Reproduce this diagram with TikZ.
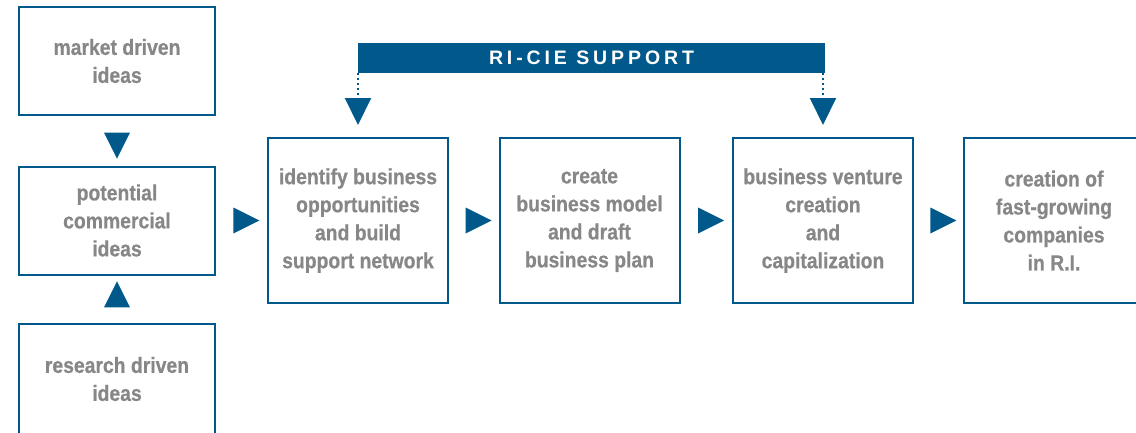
\documentclass[tikz,border=0pt]{standalone}
\usepackage{fontspec}
\setmainfont{Liberation Sans}
\newfontfamily\boxfont[FakeStretch=0.88, BoldFont={Liberation Sans Bold}, BoldFeatures={FakeBold=0.6}]{Liberation Sans}
\newfontfamily\barfont[LetterSpace=20]{Liberation Sans}
\usetikzlibrary{shapes.geometric}
\usetikzlibrary{arrows.meta}
\definecolor{riblue}{HTML}{00598A}
\definecolor{rigrey}{HTML}{878787}
\tikzset{
  idea/.style={draw=riblue, line width=2pt, minimum width=196pt, minimum height=108pt,
    inner sep=0pt, align=center, text=rigrey, font=\boxfont\bfseries\fontsize{22}{28}\selectfont},
  stage/.style={idea, minimum width=180pt, minimum height=165pt},
  pointer/.style={isosceles triangle, isosceles triangle stretches, minimum width=26pt,
    minimum height=26pt, inner sep=0pt, fill=riblue, sloped, allow upside down, midway},
  bar/.style={fill=riblue, minimum width=467pt, minimum height=30pt, inner sep=0pt,
    text=white, font=\barfont\bfseries\fontsize{19.5}{20}\selectfont},
  support/.style={riblue, line width=2pt, dash pattern=on 2pt off 3pt, shorten >=12pt,
    -{Triangle[length=27pt,width=26pt]}}
}
\begin{document}
\begin{tikzpicture}[x=1pt, y=-1pt]
  \clip (0,0) rectangle (1136,432);
  % left column
  \node[idea] (market) at (117,61) {market driven\\ideas};
  \node[idea] (potential) at (117,220.5) {potential\\commercial\\ideas};
  \node[idea, minimum height=110pt] (research) at (117,379) {research driven\\ideas};
  % main row
  \node[stage] (identify) at (358,220.5) {identify business\\opportunities\\and build\\support network};
  \node[stage] (create) at (589.5,220.5) {create\\business model\\and draft\\business plan};
  \node[stage] (venture) at (823,220.5) {business venture\\creation\\and\\capitalization};
  \node[stage] (companies) at (1054,220.5) {creation of\\fast-growing\\companies\\in R.I.};
  % support bar
  \node[bar] (ricie) at (591.5,58) {RI-CIE SUPPORT};
  % pointers
  \path (market) -- node[pointer] {} (potential);
  \path (research) -- node[pointer] {} (potential);
  \path (potential) -- node[pointer] {} (identify);
  \path (identify) -- node[pointer] {} (create);
  \path (create) -- node[pointer] {} (venture);
  \path (venture) -- node[pointer] {} (companies);
  \draw[support] (identify.north |- ricie.south) -- (identify.north);
  \draw[support] (venture.north |- ricie.south) -- (venture.north);
\end{tikzpicture}
\end{document}
